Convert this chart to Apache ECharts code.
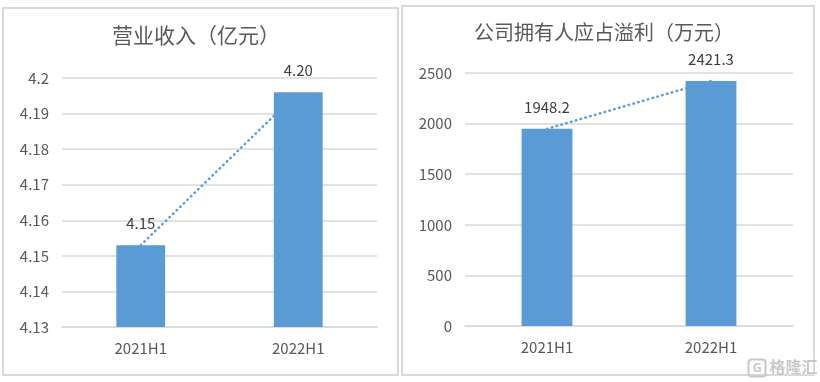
<!DOCTYPE html>
<html lang="zh" style="height: 100%">
<head>
<meta charset="utf-8">
<title>营业收入 / 公司拥有人应占溢利</title>
</head>
<body style="height: 100%; margin: 0; background: #fff">
<div id="container" style="width: 820px; height: 382px"></div>

<script type="text/javascript" src="https://cdn.jsdelivr.net/npm/echarts/dist/echarts.min.js"></script>

<script type="text/javascript">

var categories = ['2021H1', '2022H1'];
var revenue = [4.153, 4.196];            // 营业收入（亿元）
var revenueLabels = ['4.15', '4.20'];
var profit = [1948.2, 2421.3];           // 公司拥有人应占溢利（万元）
var profitLabels = ['1948.2', '2421.3'];

var dom = document.getElementById('container');
var myChart = echarts.init(dom, null, {width: 820, height: 382});

var font = '"Noto Sans CJK SC", "Noto Sans", sans-serif';
var blue = '#5b9bd5';
var grey = '#d9d9d9';
var textGrey = '#595959';

function xAxisFor(idx) {
    return {
        type: 'category',
        gridIndex: idx,
        data: categories,
        axisLine: {lineStyle: {color: grey, width: 1.5}},
        axisTick: {show: false},
        axisLabel: {color: textGrey, fontSize: 15, fontFamily: font, margin: 14}
    };
}

function yAxisFor(idx, min, max, interval) {
    return {
        type: 'value',
        gridIndex: idx,
        min: min,
        max: max,
        interval: interval,
        axisLine: {show: false},
        axisTick: {show: false},
        splitLine: {lineStyle: {color: grey, width: 1.5}},
        axisLabel: {
            color: textGrey, fontSize: 15, fontFamily: font, margin: 13,
            formatter: function (v) { return String(+v.toFixed(2)); }
        }
    };
}

function barSeries(idx, values, labels) {
    return {
        type: 'bar',
        xAxisIndex: idx,
        yAxisIndex: idx,
        data: values,
        barWidth: '31%',
        z: 3,
        itemStyle: {color: blue},
        label: {
            show: true,
            position: 'top',
            distance: 14,
            color: '#404040',
            fontSize: 15,
            fontFamily: font,
            formatter: function (p) { return labels[p.dataIndex]; }
        }
    };
}

function trendSeries(idx, values) {
    return {
        type: 'line',
        xAxisIndex: idx,
        yAxisIndex: idx,
        data: values,
        z: 1,
        symbol: 'none',
        silent: true,
        lineStyle: {color: blue, width: 2.5, type: [0.5, 4.5], cap: 'round'}
    };
}

var option = {
    animation: false,
    backgroundColor: '#fff',
    title: [
        {
            text: '营业收入（亿元）',
            left: 196, top: 25, textAlign: 'center', padding: 0,
            textStyle: {color: textGrey, fontSize: 21, fontWeight: 'normal', fontFamily: font}
        },
        {
            text: '公司拥有人应占溢利（万元）',
            left: 604, top: 22, textAlign: 'center', padding: 0,
            textStyle: {color: textGrey, fontSize: 20, fontWeight: 'normal', fontFamily: font}
        }
    ],
    grid: [
        {left: 62, right: 443, top: 78, bottom: 55},
        {left: 465, right: 27, top: 73, bottom: 56}
    ],
    xAxis: [xAxisFor(0), xAxisFor(1)],
    yAxis: [yAxisFor(0, 4.13, 4.2, 0.01), yAxisFor(1, 0, 2500, 500)],
    series: [
        trendSeries(0, revenue),
        barSeries(0, revenue, revenueLabels),
        trendSeries(1, profit),
        barSeries(1, profit, profitLabels)
    ],
    graphic: [
        {type: 'rect', shape: {x: 3, y: 8, width: 395, height: 367}, style: {fill: 'none', stroke: grey, lineWidth: 2}, z: 0},
        {type: 'rect', shape: {x: 402, y: 6, width: 412, height: 369}, style: {fill: 'none', stroke: grey, lineWidth: 2}, z: 0},
        {
            type: 'group', left: 746, top: 357, z: 10,
            children: [
                {type: 'rect', shape: {x: 0, y: 1, width: 17, height: 17, r: 3}, style: {fill: 'none', stroke: '#c8c8c8', lineWidth: 2}},
                {type: 'text', style: {x: 4, y: 3, text: 'G', fill: '#c8c8c8', font: 'bold 13px "Noto Sans"'}},
                {type: 'text', style: {x: 21, y: 0, text: '格隆汇', fill: 'rgba(190,190,190,0.85)', stroke: '#fff', lineWidth: 0.5, font: 'bold 16px "Noto Sans CJK SC"'}}
            ]
        }
    ]
};

if (option && typeof option === 'object') {
    myChart.setOption(option);
}

</script>
</body>
</html>
